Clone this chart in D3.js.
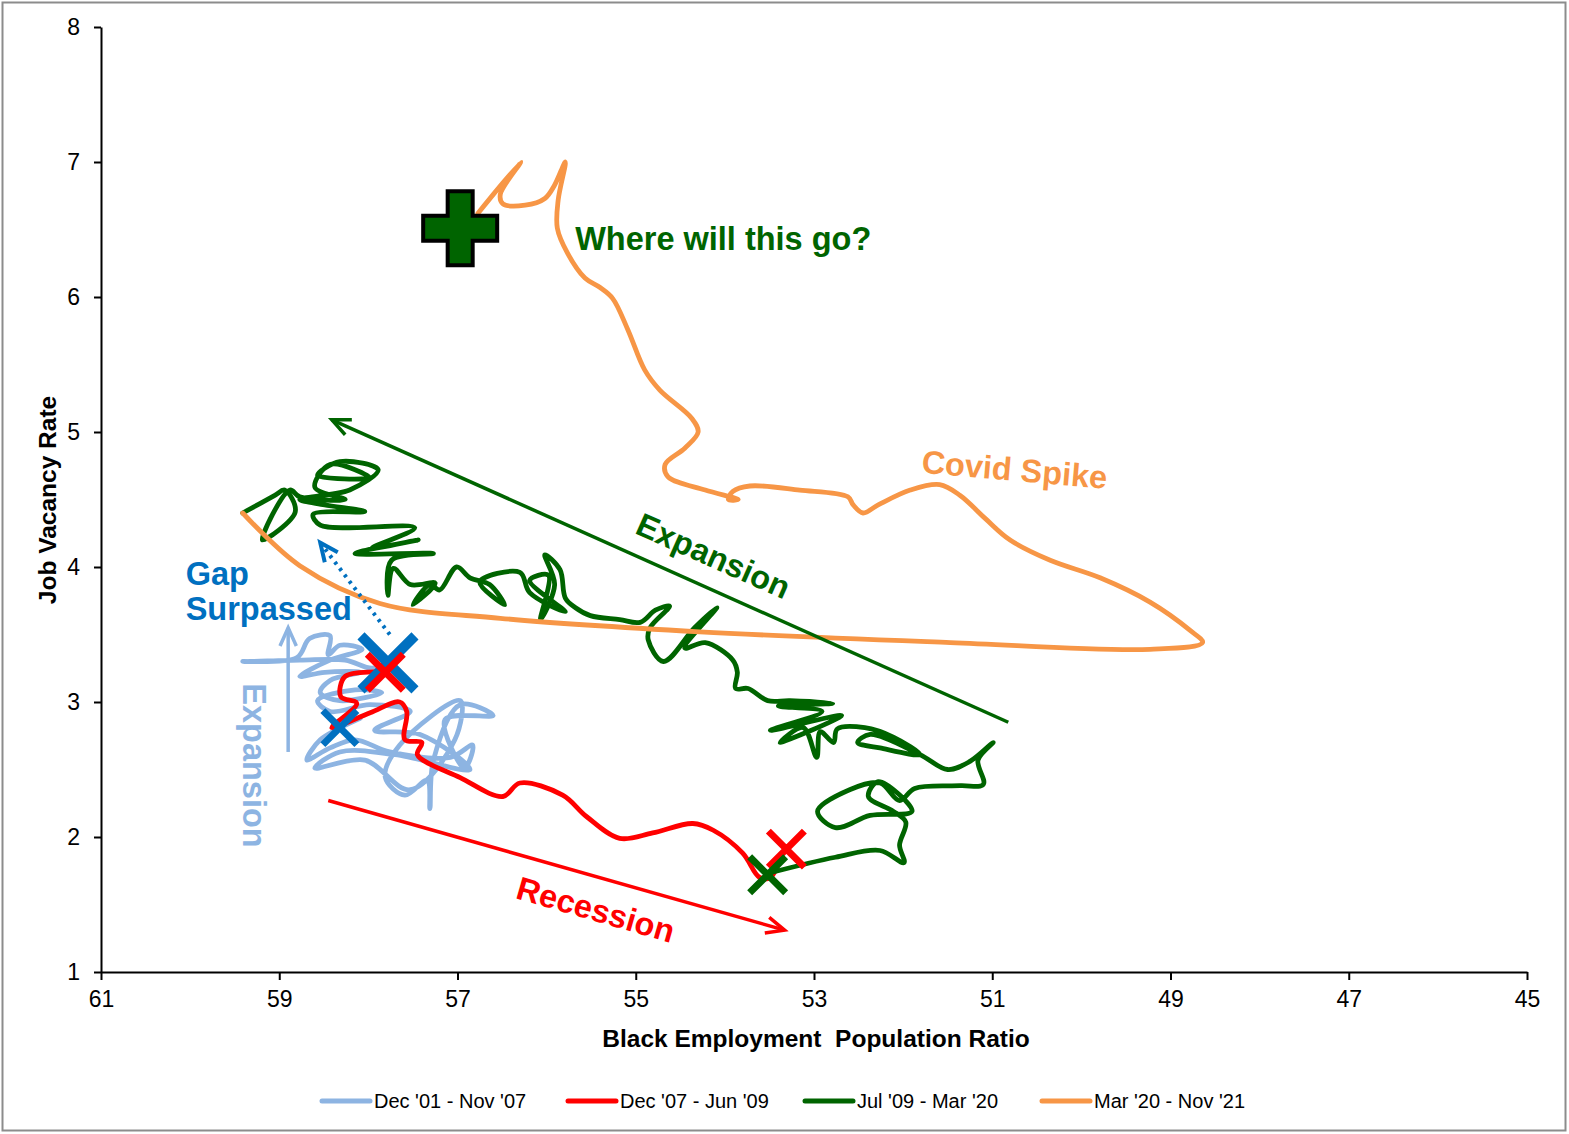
<!DOCTYPE html>
<html><head><meta charset="utf-8">
<script src="https://cdn.jsdelivr.net/npm/d3@7"></script>
<style>body{margin:0;background:#fff}svg{display:block}</style>
</head><body>
<svg id="c" width="1569" height="1134"></svg>
<script>
// ---------- DATA ----------
const xTicks = [61, 59, 57, 55, 53, 51, 49, 47, 45];
const yTicks = [1, 2, 3, 4, 5, 6, 7, 8];
const seriesNames = ["Dec '01 - Nov '07", "Dec '07 - Jun '09", "Jul '09 - Mar '20", "Mar '20 - Nov '21"];
const seriesColors = ["#8DB4E2", "#FF0000", "#006400", "#F79646"];

// Dec '01 - Nov '07 (light blue)
const s1Epop = [58.32,58.09,58.54,58.69,58.43,58.15,57.76,57.08,56.83,56.92,57.14,56.60,56.97,57.27,57.31,57.34,57.59,57.81,57.65,56.97,57.03,57.53,58.04,58.60,58.32,57.70,56.86,57.42,57.93,57.53,57.98,58.43,58.57,58.15,57.85,58.32,58.54,58.43,58.09,58.49,58.77,58.43,58.07,58.32,58.45,58.43,58.66,58.80,59.41,58.77,58.26,57.96,57.78];
const s1Vac  = [2.81,2.88,2.72,2.57,2.66,2.72,2.63,2.59,2.68,2.51,2.87,2.90,2.98,2.57,2.21,2.42,2.31,2.44,2.68,3.01,2.72,2.35,2.57,2.51,2.63,2.61,2.50,2.76,2.79,2.93,2.98,2.93,3.01,3.09,3.07,3.01,3.07,3.16,3.22,3.22,3.19,3.31,3.39,3.42,3.35,3.49,3.47,3.33,3.30,3.31,3.31,3.25,3.29];

// Dec '07 - Jun '09 (red)
const s2Epop = [57.81,58.26,58.31,58.13,58.41,57.98,57.65,57.57,57.59,57.40,57.45,56.97,56.49,56.30,55.82,55.55,55.18,54.81,54.36,54.13,53.80,53.61,53.49,53.36];
const s2Vac  = [3.22,3.19,3.04,2.99,2.81,2.92,3.00,2.93,2.72,2.70,2.61,2.44,2.30,2.40,2.31,2.15,1.99,2.03,2.10,2.05,1.88,1.70,1.70,1.87];

// Jul '09 - Mar '20 (green)
const s3Epop = [53.52,52.76,52.26,51.99,52.04,51.97,52.11,52.39,52.28,51.90,52.37,52.76,52.96,52.60,52.26,52.04,51.87,51.36,51.10,51.16,50.99,51.25,51.50,51.81,52.37,52.51,52.26,51.81,52.11,52.43,52.74,52.78,52.93,52.97,53.12,53.38,52.69,53.49,52.91,53.40,52.79,53.27,53.52,53.74,53.88,53.86,53.91,54.22,54.45,54.09,54.34,54.69,54.86,54.84,54.62,54.78,54.95,55.18,55.51,55.68,55.79,55.85,56.02,55.91,56.07,55.98,56.19,55.79,56.19,56.30,56.75,56.47,56.64,56.86,57.01,57.20,57.31,57.50,57.25,57.53,57.72,57.78,57.74,57.27,58.15,57.44,57.96,57.48,58.54,58.62,58.04,58.49,58.77,58.21,57.89,58.32,58.57,57.98,58.43,58.60,58.26,58.77,58.88,59.19,58.82,58.94,59.05,59.41];
const s3Vac  = [1.73,1.85,1.90,1.81,1.94,2.11,2.19,2.30,2.41,2.19,2.16,2.07,2.19,2.35,2.40,2.27,2.36,2.38,2.39,2.57,2.70,2.56,2.50,2.61,2.76,2.70,2.66,2.61,2.74,2.81,2.80,2.70,2.78,2.59,2.81,2.70,2.90,2.79,2.93,2.97,2.99,3.01,3.01,3.10,3.10,3.22,3.31,3.44,3.40,3.70,3.55,3.30,3.46,3.55,3.71,3.68,3.59,3.61,3.64,3.70,3.77,3.98,4.09,3.87,3.61,3.94,3.90,3.67,3.81,3.96,3.89,3.72,3.87,3.92,4.00,3.83,3.87,3.72,3.88,3.87,3.99,3.79,4.05,4.10,4.10,4.20,4.14,4.29,4.31,4.39,4.41,4.46,4.50,4.57,4.72,4.78,4.68,4.66,4.76,4.59,4.50,4.52,4.57,4.20,4.41,4.57,4.53,4.40];

// Mar '20 - Nov '21 (orange)
const s4Epop = [59.41,58.77,57.87,56.52,54.28,51.47,49.23,48.64,48.78,49.23,49.79,50.35,50.80,51.08,51.36,51.59,51.92,52.28,52.45,52.56,52.62,53.16,53.72,53.91,53.96,53.85,54.22,54.64,54.67,54.45,54.30,54.37,54.73,54.90,55.09,55.26,55.40,55.57,55.77,55.88,55.87,55.79,55.91,56.02,56.24,56.49,56.52,56.29,56.77];
const s4Vac  = [4.40,4.01,3.73,3.62,3.52,3.44,3.39,3.44,3.53,3.74,3.92,4.05,4.20,4.36,4.53,4.61,4.57,4.46,4.40,4.46,4.52,4.57,4.60,4.56,4.50,4.50,4.57,4.67,4.76,4.88,5.00,5.10,5.31,5.46,5.76,5.99,6.07,6.14,6.33,6.51,6.72,7.00,6.83,6.73,6.68,6.69,6.76,7.00,6.62];

// markers (x marks and plus), in data units
const markerEpop  = [58.32, 57.78, 57.81, 53.31, 53.52];
const markerVac   = [2.81, 3.29, 3.22, 1.91, 1.72];
const markerColor = ["#0070C0", "#0070C0", "#FF0000", "#FF0000", "#006400"];
const markerSize  = [17, 27, 18, 18, 18];
const markerWidth = [7, 10, 7, 7, 7];
const plusEpop = 56.97, plusVac = 6.51;

// annotation arrows (data units)
const arrows = [
  {from:[50.82,2.85], to:[58.41,5.09], color:"#006400", dash:null, w:3.5},
  {from:[58.45,2.27], to:[53.33,1.31], color:"#FF0000", dash:null, w:3.5},
  {from:[58.90,2.63], to:[58.90,3.55], color:"#8DB4E2", dash:null, w:3.5},
  {from:[57.76,3.50], to:[58.54,4.18], color:"#0070C0", dash:"3,5", w:4}
];
const labels = [
  {t:"Where will this go?", x:55.68, y:6.35, c:"#006400", rot:0, anchor:"start"},
  {t:"Covid Spike", x:50.75, y:4.72, c:"#F79646", rot:5, anchor:"middle"},
  {t:"Expansion", x:54.13, y:4.08, c:"#006400", rot:24, anchor:"middle"},
  {t:"Recession", x:55.45, y:1.46, c:"#FF0000", rot:16, anchor:"middle"},
  {t:"Expansion", x:59.28, y:2.53, c:"#8DB4E2", rot:90, anchor:"middle"},
  {t:"Gap", x:60.05, y:3.87, c:"#0070C0", rot:0, anchor:"start"},
  {t:"Surpassed", x:60.05, y:3.61, c:"#0070C0", rot:0, anchor:"start"}
];

// ---------- CHART ----------
const svg = d3.select("#c");
const x = d3.scaleLinear().domain([61, 45]).range([101, 1527]);
const y = d3.scaleLinear().domain([1, 8]).range([972, 27]);

svg.append("rect").attr("x",2.5).attr("y",2.5).attr("width",1563).attr("height",1128)
  .attr("fill","#fff").attr("stroke","#8c8c8c").attr("stroke-width",2);

// axes
const yAxis = svg.append("g").attr("transform","translate(101,0)")
  .call(d3.axisLeft(y).tickValues(yTicks).tickFormat(d3.format("d")).tickSizeInner(7).tickSizeOuter(0).tickPadding(14));
const xAxis = svg.append("g").attr("transform","translate(0,972)")
  .call(d3.axisBottom(x).tickValues(xTicks).tickFormat(d3.format("d")).tickSizeInner(8).tickSizeOuter(0).tickPadding(11));
[yAxis, xAxis].forEach(a => {
  a.attr("font-size",23).attr("font-family","'Liberation Sans', Arial, sans-serif");
  a.selectAll("path,line").attr("stroke","#000").attr("stroke-width",2);
  a.selectAll("text").attr("fill","#000");
});

svg.append("text").attr("transform","translate(56,500) rotate(-90)").attr("text-anchor","middle")
  .attr("font-family","'Liberation Sans', Arial, sans-serif").attr("font-weight","bold").attr("font-size",24.5)
  .text("Job Vacancy Rate");
svg.append("text").attr("x",816).attr("y",1047).attr("text-anchor","middle")
  .attr("font-family","'Liberation Sans', Arial, sans-serif").attr("font-weight","bold").attr("font-size",24.5)
  .style("white-space","pre")
  .text("Black Employment  Population Ratio");

// series
const line = d3.line().x(d => x(d[0])).y(d => y(d[1])).curve(d3.curveCatmullRom.alpha(0.5));
const series = [
  d3.zip(s1Epop, s1Vac), d3.zip(s2Epop, s2Vac), d3.zip(s3Epop, s3Vac), d3.zip(s4Epop, s4Vac)
];
const gS = svg.append("g");
series.forEach((s, i) => {
  gS.append("path").attr("d", line(s)).attr("fill","none").attr("stroke",seriesColors[i])
    .attr("stroke-width",4.8).attr("stroke-linejoin","round").attr("stroke-linecap","round");
});

// arrows
const gA = svg.append("g");
arrows.forEach(a => {
  const x1 = x(a.from[0]), y1 = y(a.from[1]), x2 = x(a.to[0]), y2 = y(a.to[1]);
  const ln = gA.append("line").attr("x1",x1).attr("y1",y1).attr("x2",x2).attr("y2",y2)
    .attr("stroke",a.color).attr("stroke-width",a.w);
  if (a.dash) ln.attr("stroke-dasharray",a.dash);
  const ang = Math.atan2(y2 - y1, x2 - x1), L = 20, sp = 0.42;
  const p1 = [x2 - L*Math.cos(ang - sp), y2 - L*Math.sin(ang - sp)];
  const p2 = [x2 - L*Math.cos(ang + sp), y2 - L*Math.sin(ang + sp)];
  gA.append("path").attr("d", `M${p1[0]},${p1[1]}L${x2},${y2}L${p2[0]},${p2[1]}`)
    .attr("fill","none").attr("stroke",a.color).attr("stroke-width",a.w)
    .attr("stroke-linejoin","miter").attr("stroke-linecap","butt");
});

// labels
labels.forEach(l => {
  svg.append("text").attr("transform",`translate(${x(l.x)},${y(l.y)}) rotate(${l.rot})`)
    .attr("text-anchor",l.anchor).attr("dominant-baseline", l.anchor==="middle" ? "central" : "auto")
    .attr("font-family","'Liberation Sans', Arial, sans-serif").attr("font-weight","bold")
    .attr("font-size",32.5).attr("fill",l.c).text(l.t);
});

// X markers
const gM = svg.append("g");
markerEpop.forEach((e, i) => {
  const cx = x(e), cy = y(markerVac[i]), s = markerSize[i];
  gM.append("path").attr("d",`M${cx-s},${cy-s}L${cx+s},${cy+s}M${cx-s},${cy+s}L${cx+s},${cy-s}`)
    .attr("stroke",markerColor[i]).attr("stroke-width",markerWidth[i]).attr("fill","none");
});

// plus marker
const px = x(plusEpop), py = y(plusVac), A = 37, T = 12.5;
gM.append("path").attr("d",
  `M${px-T},${py-A}H${px+T}V${py-T}H${px+A}V${py+T}H${px+T}V${py+A}H${px-T}V${py+T}H${px-A}V${py-T}H${px-T}Z`)
  .attr("fill","#006400").attr("stroke","#000").attr("stroke-width",4);

// legend
const legX = [322, 568, 805, 1042];
const gL = svg.append("g");
seriesNames.forEach((n, i) => {
  gL.append("line").attr("x1",legX[i]).attr("x2",legX[i]+48).attr("y1",1101).attr("y2",1101)
    .attr("stroke",seriesColors[i]).attr("stroke-width",5).attr("stroke-linecap","round");
  gL.append("text").attr("x",legX[i]+52).attr("y",1108)
    .attr("font-family","'Liberation Sans Narrow', 'Arial Narrow', sans-serif").attr("font-size",20)
    .attr("fill","#000").text(n);
});
</script>
</body></html>
